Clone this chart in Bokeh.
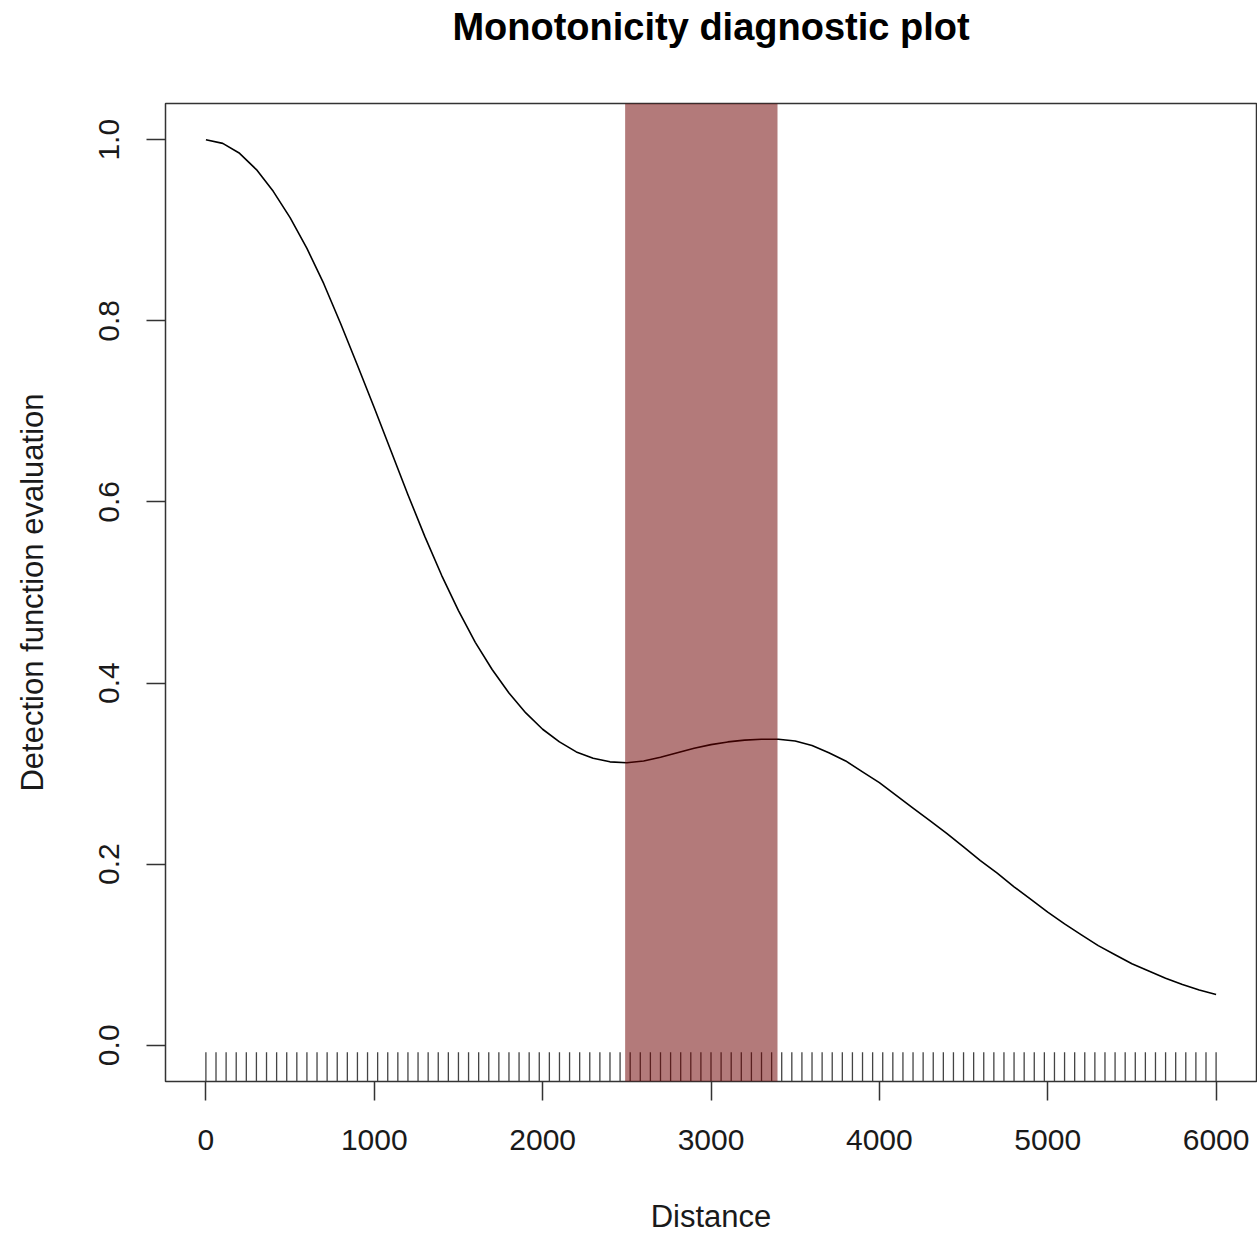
from bokeh.plotting import figure
from bokeh.models import Range1d, FixedTicker, PrintfTickFormatter, BoxAnnotation, Title
from bokeh.embed import file_html
from bokeh.resources import INLINE

# ---- data ----
distance = [0, 100, 200, 300, 400, 500, 600, 700, 800, 900,
            1000, 1100, 1200, 1300, 1400, 1500, 1600, 1700, 1800, 1900,
            2000, 2100, 2200, 2300, 2400, 2500, 2600, 2700, 2800, 2900,
            3000, 3100, 3200, 3300, 3400, 3500, 3600, 3700, 3800, 3900,
            4000, 4100, 4200, 4300, 4400, 4500, 4600, 4700, 4800, 4900,
            5000, 5100, 5200, 5300, 5400, 5500, 5600, 5700, 5800, 5900, 6000]
detection = [1.000, 0.996, 0.985, 0.967, 0.943, 0.914, 0.880, 0.841, 0.797, 0.751,
             0.704, 0.656, 0.608, 0.562, 0.519, 0.480, 0.445, 0.415, 0.389, 0.367,
             0.349, 0.335, 0.324, 0.317, 0.313, 0.312, 0.314, 0.318, 0.323, 0.328,
             0.332, 0.335, 0.337, 0.338, 0.338, 0.336, 0.331, 0.323, 0.314, 0.302,
             0.290, 0.276, 0.262, 0.248, 0.234, 0.219, 0.204, 0.190, 0.175, 0.161,
             0.147, 0.134, 0.122, 0.110, 0.100, 0.090, 0.082, 0.074, 0.067, 0.061, 0.056]
rug_distance = [0, 60, 120, 180, 240, 300, 360, 420, 480, 540,
                600, 660, 720, 780, 840, 900, 960, 1020, 1080, 1140,
                1200, 1260, 1320, 1380, 1440, 1500, 1560, 1620, 1680, 1740,
                1800, 1860, 1920, 1980, 2040, 2100, 2160, 2220, 2280, 2340,
                2400, 2460, 2520, 2580, 2640, 2700, 2760, 2820, 2880, 2940,
                3000, 3060, 3120, 3180, 3240, 3300, 3360, 3420, 3480, 3540,
                3600, 3660, 3720, 3780, 3840, 3900, 3960, 4020, 4080, 4140,
                4200, 4260, 4320, 4380, 4440, 4500, 4560, 4620, 4680, 4740,
                4800, 4860, 4920, 4980, 5040, 5100, 5160, 5220, 5280, 5340,
                5400, 5460, 5520, 5580, 5640, 5700, 5760, 5820, 5880, 5940, 6000]
band_start = 2490
band_end = 3395
x_ticks = [0, 1000, 2000, 3000, 4000, 5000, 6000]
y_ticks = [0.0, 0.2, 0.4, 0.6, 0.8, 1.0]
title_text = "Monotonicity diagnostic plot"

FONT = "Liberation Sans"

x0, x1 = -240, 6240
y0, y1 = -0.04, 1.04

p = figure(width=1257, height=1236, output_backend="svg", toolbar_location=None,
           x_range=Range1d(x0, x1), y_range=Range1d(y0, y1),
           min_border_left=165, min_border_right=1, min_border_top=103,
           min_border_bottom=154, background_fill_color="white",
           border_fill_color="white")

# blank spacer between the frame and the title
p.add_layout(Title(text=" ", text_font_size="10px", standoff=36), "above")

p.title.text = title_text
p.title.align = "center"
p.title.vertical_align = "top"
p.title.text_font = FONT
p.title.text_font_size = "38px"
p.title.text_font_style = "bold"
p.title.text_color = "black"
p.title.standoff = 10

p.xgrid.visible = False
p.ygrid.visible = False
p.outline_line_color = "#333333"
p.outline_line_width = 1.5

# main curve
p.line(distance, detection, line_color="black", line_width=1.6,
       line_join="round")

# rug
rug_top = y0 + 0.03 * (y1 - y0)
p.segment(x0=rug_distance, y0=[y0] * len(rug_distance), x1=rug_distance,
          y1=[rug_top] * len(rug_distance), line_color="#444444", line_width=1.3)

# non-monotonic band
p.add_layout(BoxAnnotation(left=band_start, right=band_end,
                           fill_color="#6e0000", fill_alpha=0.52, line_color=None))

for ax in (p.xaxis[0], p.yaxis[0]):
    ax.axis_line_color = None
    ax.major_tick_line_color = "#333333"
    ax.major_tick_line_width = 1.5
    ax.minor_tick_line_color = None
    ax.major_tick_in = 0
    ax.major_tick_out = 19
    ax.major_label_text_font = FONT
    ax.major_label_text_font_size = "30px"
    ax.major_label_text_color = "#1a1a1a"
    ax.axis_label_text_font = FONT
    ax.axis_label_text_font_size = "31px"
    ax.axis_label_text_font_style = "normal"
    ax.axis_label_text_color = "#1a1a1a"

p.xaxis.major_label_standoff = 29
p.xaxis.axis_label_standoff = 46
p.yaxis.major_label_standoff = 27
p.yaxis.axis_label_standoff = 47

p.xaxis.ticker = FixedTicker(ticks=x_ticks)
p.yaxis.ticker = FixedTicker(ticks=y_ticks)
p.yaxis.formatter = PrintfTickFormatter(format="%.1f")
p.yaxis.major_label_orientation = "vertical"
p.xaxis.axis_label = "Distance"
p.yaxis.axis_label = "Detection function evaluation"

open("out.html", "w").write(file_html(p, INLINE))
